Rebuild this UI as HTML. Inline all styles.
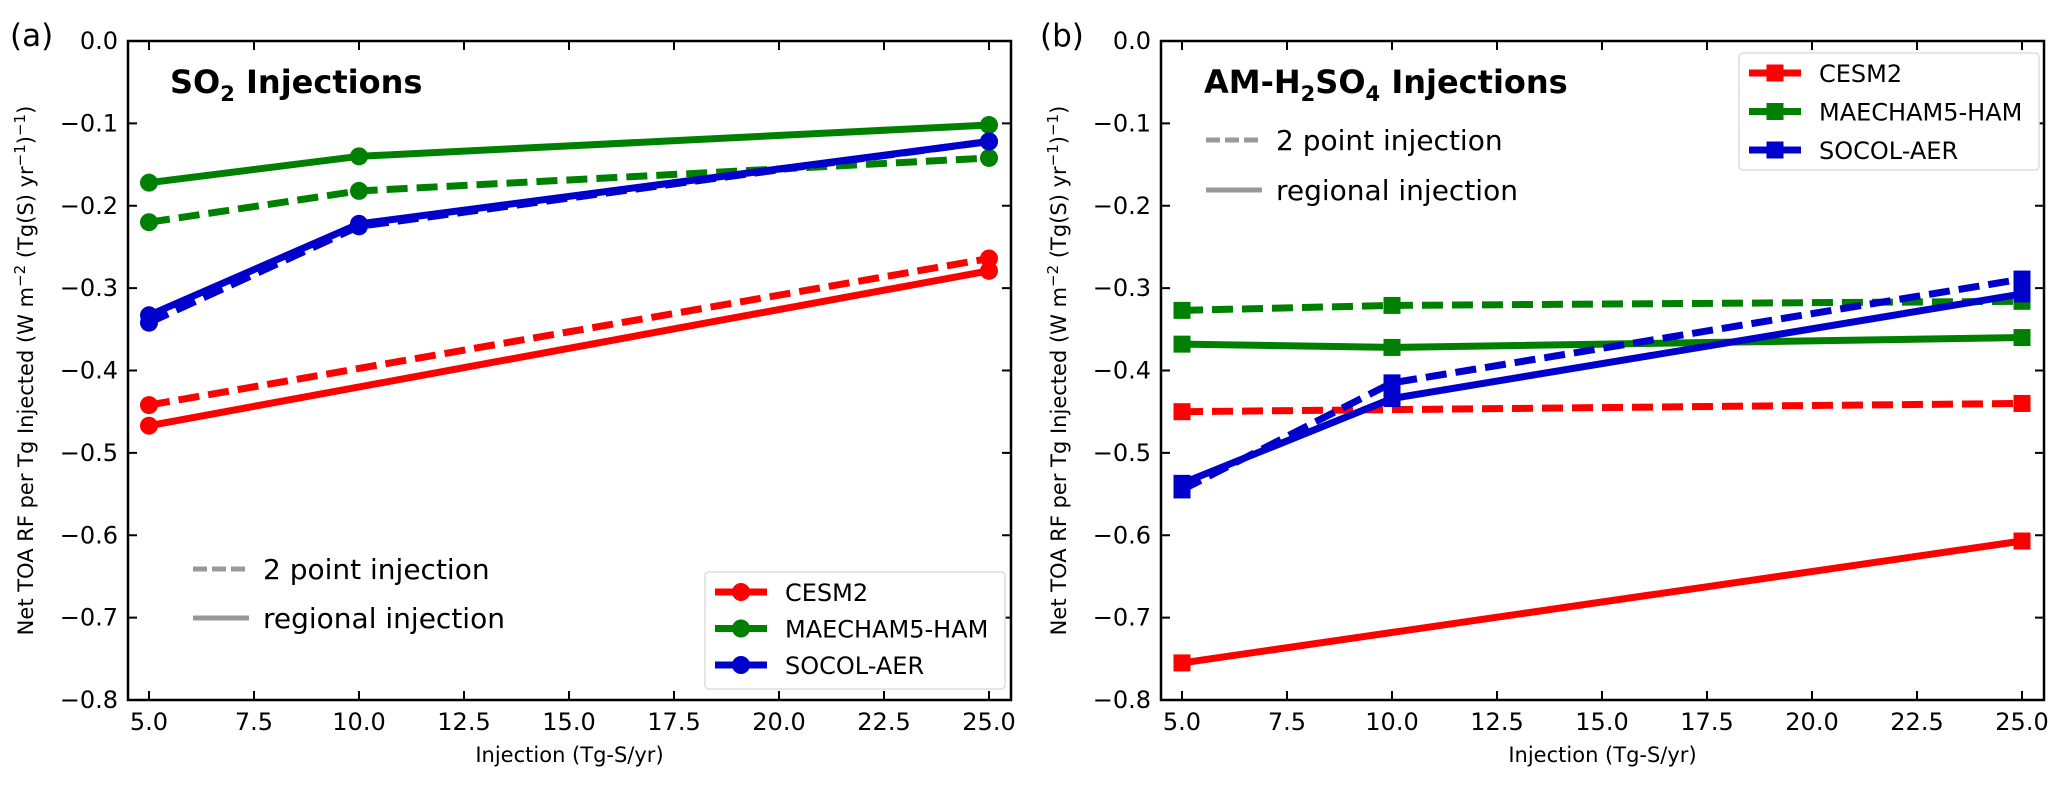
<!DOCTYPE html>
<html><head><meta charset="utf-8"><style>
body{margin:0;background:#fff}
svg{display:block;font-family:"DejaVu Sans","Liberation Sans",sans-serif}
</style></head><body>
<svg id="fig" width="2067" height="785" viewBox="0 0 2067 785" xmlns="http://www.w3.org/2000/svg"></svg>
<script>
const xCats = [5, 10, 25];
const xTicks = [5, 7.5, 10, 12.5, 15, 17.5, 20, 22.5, 25];
const yTicks = [0, -0.1, -0.2, -0.3, -0.4, -0.5, -0.6, -0.7, -0.8];
const models = ["CESM2", "MAECHAM5-HAM", "SOCOL-AER"];
const colors = ["#ff0000", "#008000", "#0000cc"];
// Panel a (SO2) — null = no run at that rate
const aCesmSolid = [-0.467, null, -0.279];
const aCesmDash = [-0.442, null, -0.264];
const aMaeSolid = [-0.172, -0.140, -0.102];
const aMaeDash = [-0.220, -0.182, -0.142];
const aSocSolid = [-0.333, -0.222, -0.122];
const aSocDash = [-0.342, -0.225, -0.122];
// Panel b (AM-H2SO4)
const bCesmSolid = [-0.755, null, -0.607];
const bCesmDash = [-0.450, null, -0.440];
const bMaeSolid = [-0.368, -0.372, -0.360];
const bMaeDash = [-0.327, -0.321, -0.316];
const bSocSolid = [-0.537, -0.434, -0.307];
const bSocDash = [-0.545, -0.415, -0.289];

const NS = "http://www.w3.org/2000/svg";
const svg = document.getElementById('fig');
function mk(tag, attrs, parent, text){
  const e = document.createElementNS(NS, tag);
  for (const k in attrs) e.setAttribute(k, attrs[k]);
  if (text !== undefined) e.textContent = text;
  (parent||svg).appendChild(e);
  return e;
}

function panel(cfg){
  const L = cfg.left, R = cfg.right, T = 41, B = 700;
  const sx = v => L + 21 + (v - 5) * 42;
  const sy = v => T + (-v) * (B - T) / 0.8;
  const g = mk('g', {});
  
  
  yTicks.forEach(t => {
    const y = sy(t);
    const tk = mk('path', {d:`M${L} ${y}H${L+9}M${R} ${y}H${R-9}`, stroke:'#000','stroke-width':2}, g);
    
    
    const lb = mk('text', {x:L-10, y:y+8, 'text-anchor':'end','font-size':24}, g, (t===0?'0.0':'\u2212'+Math.abs(t).toFixed(1)));
    
    
  });
  xTicks.forEach(t => {
    const x = sx(t);
    const tk = mk('path', {d:`M${x} ${B}V${B-9}M${x} ${T}V${T+9}`, stroke:'#000','stroke-width':2}, g);
    
    
    const lb = mk('text', {x:x, y:B+30, 'text-anchor':'middle','font-size':24}, g, t.toFixed(1));
    
    
  });
  cfg.series.forEach(s => {
    const pts = [];
    xCats.forEach((c,i)=>{ if (s.vals[i] !== null) pts.push([sx(c), sy(s.vals[i])]); });
    const ln = mk('polyline', {points:pts.map(p=>p.join(',')).join(' '), fill:'none', stroke:s.color,'stroke-width':7,'stroke-dasharray':s.dash?'21 9':'none','stroke-linejoin':'round'}, g);
    
    
    pts.forEach(p => {
      let m;
      if (cfg.marker === 'circle') m = mk('circle', {cx:p[0], cy:p[1], r:9, fill:s.color}, g);
      else m = mk('rect', {x:p[0]-8.5, y:p[1]-8.5, width:17, height:17, fill:s.color}, g);
      
      
    });
  });
  const fr = mk('rect', {x:L, y:T, width:R-L, height:B-T, fill:'none', stroke:'#000','stroke-width':2.5}, g);
  
  
  const xt = mk('text', {x:(L+R)/2, y:B+62, 'text-anchor':'middle','font-size':21}, g, 'Injection (Tg-S/yr)');
  
  
  const yt = mk('text', {transform:`translate(${cfg.ytx},${(T+B)/2}) rotate(-90)`, 'text-anchor':'middle','font-size':21}, g);
  
  
  yt.innerHTML = 'Net TOA RF per Tg Injected (W m<tspan dy="-8" font-size="15">\u22122</tspan><tspan dy="8"> (Tg(S) yr</tspan><tspan dy="-8" font-size="15">\u22121</tspan><tspan dy="8">)</tspan><tspan dy="-8" font-size="15">\u22121</tspan><tspan dy="8">)</tspan>';
  const pl = mk('text', {x:cfg.letterX, y:46, 'font-size':31}, g, cfg.letter);
  
  
  const ti = mk('text', {x:cfg.titleX, y:93, 'font-size':32,'font-weight':'bold'}, g);
  
  
  ti.innerHTML = cfg.title;
  const st = cfg.style;
  const sl = mk('g', {}, g);
  
  
  mk('line', {x1:st.x, x2:st.x+56, y1:st.y1, y2:st.y1, stroke:'#999','stroke-width':5,'stroke-dasharray':'14 5'}, sl);
  mk('text', {x:st.x+70, y:st.y1+10, 'font-size':28}, sl, '2 point injection');
  mk('line', {x1:st.x, x2:st.x+56, y1:st.y2, y2:st.y2, stroke:'#999','stroke-width':5}, sl);
  mk('text', {x:st.x+70, y:st.y2+10, 'font-size':28}, sl, 'regional injection');
  const ml = cfg.mleg;
  const lg = mk('g', {}, g);
  
  
  mk('rect', {x:ml.x, y:ml.y, width:ml.w, height:ml.h, rx:4, fill:'#fff', stroke:'#ddd','stroke-width':1.5}, lg);
  models.forEach((m,i) => {
    const y = ml.y + 20 + i*ml.dy;
    const e = mk('g', {}, lg);
    
    
    mk('line', {x1:ml.x+10, x2:ml.x+62, y1:y, y2:y, stroke:colors[i],'stroke-width':7}, e);
    if (cfg.marker==='circle') mk('circle', {cx:ml.x+36, cy:y, r:9, fill:colors[i]}, e);
    else mk('rect', {x:ml.x+27.5, y:y-8.5, width:17, height:17, fill:colors[i]}, e);
    mk('text', {x:ml.x+80, y:y+9, 'font-size':24}, e, m);
  });
}

panel({name:'panel-a-so2', left:128, right:1011, marker:'circle', ytx:33, letter:'(a)', letterX:10,
  titleX:170, title:'SO<tspan dy="8" font-size="21">2</tspan><tspan dy="-8"> Injections</tspan>',
  style:{x:193, y1:569, y2:618}, mleg:{x:705, y:572, w:300, h:117, dy:36.5},
  series:[
    {name:'cesm2-regional', color:colors[0], dash:false, vals:aCesmSolid},
    {name:'cesm2-2point', color:colors[0], dash:true, vals:aCesmDash},
    {name:'maecham-regional', color:colors[1], dash:false, vals:aMaeSolid},
    {name:'maecham-2point', color:colors[1], dash:true, vals:aMaeDash},
    {name:'socol-regional', color:colors[2], dash:false, vals:aSocSolid},
    {name:'socol-2point', color:colors[2], dash:true, vals:aSocDash}]});
panel({name:'panel-b-am-h2so4', left:1161, right:2044, marker:'square', ytx:1066, letter:'(b)', letterX:1040,
  titleX:1204, title:'AM-H<tspan dy="8" font-size="21">2</tspan><tspan dy="-8">SO</tspan><tspan dy="8" font-size="21">4</tspan><tspan dy="-8"> Injections</tspan>',
  style:{x:1206, y1:140, y2:190}, mleg:{x:1739, y:53, w:300, h:117, dy:38.5},
  series:[
    {name:'cesm2-regional', color:colors[0], dash:false, vals:bCesmSolid},
    {name:'cesm2-2point', color:colors[0], dash:true, vals:bCesmDash},
    {name:'maecham-regional', color:colors[1], dash:false, vals:bMaeSolid},
    {name:'maecham-2point', color:colors[1], dash:true, vals:bMaeDash},
    {name:'socol-regional', color:colors[2], dash:false, vals:bSocSolid},
    {name:'socol-2point', color:colors[2], dash:true, vals:bSocDash}]});
</script>
</body></html>
